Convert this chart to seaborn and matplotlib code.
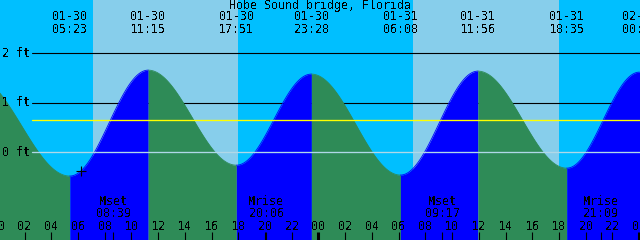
import numpy as np
import pandas as pd
import matplotlib
matplotlib.use("Agg")
import matplotlib.pyplot as plt
import matplotlib.transforms as mtransforms
import seaborn as sns

# ---------------- data (hours from 01-30 00:00) ----------------
title = "Hobe Sound bridge, Florida"
event_dates = ["01-30", "01-30", "01-30", "01-30", "01-31", "01-31", "01-31", "02-01"]
event_times = ["05:23", "11:15", "17:51", "23:28", "06:08", "11:56", "18:35", "00:02"]
event_hours = [5.383, 11.25, 17.85, 23.467, 30.133, 35.933, 42.583, 48.033]
event_heights = [-0.48, 1.66, -0.26, 1.58, -0.46, 1.64, -0.32, 1.62]
prev_high_hour = -1.83     # previous (unlabelled) high, 01-29 22:10
prev_high_height = 1.55

sunrise_hours = [7.12, 31.09]
sunset_hours = [17.98, 42.02]

moon_labels = ["Mset", "Mrise", "Mset", "Mrise"]
moon_times = ["08:39", "20:06", "09:17", "21:09"]
moon_hours = [8.65, 20.1, 33.283, 45.15]

now_hour = 6.2
mean_level = 0.646
level_lines = [2, 1]
level_labels = ["2 ft", "1 ft", "0 ft"]
hour_ticks = list(range(0, 50, 2))

# ---------------- styling ----------------
NIGHT = "#00BFFF"
DAY = "#87CEEB"
FLOOD = "#0000FF"
EBB = "#2E8B57"
ZERO = "#B0D8E8"

sns.set_theme(style="white")
plt.rcParams["font.family"] = ["DejaVu Sans Mono", "DejaVu Sans"]
plt.rcParams["text.antialiased"] = False
plt.rcParams["text.color"] = "black"
FS = 8.4
LW1 = 0.8  # ~1 px

W, H = 640, 240
x0_px, px_per_h = -2.1, 13.358
y0_px, px_per_ft = 152.3, 49.5

fig = plt.figure(figsize=(W / 100, H / 100), dpi=100)
ax = fig.add_axes([0, 0, 1, 1])
ax.set_xlim((0 - x0_px) / px_per_h, (W - x0_px) / px_per_h)
ax.set_ylim((y0_px - H) / px_per_ft, y0_px / px_per_ft)
ax.axis("off")

def yfrac(p):
    return 1 - p / H

trans = mtransforms.blended_transform_factory(ax.transData, ax.transAxes)
trans_ay = mtransforms.blended_transform_factory(ax.transAxes, ax.transData)

# sky: night / day
xmin, xmax = ax.get_xlim()
ax.axvspan(xmin, xmax, color=NIGHT, zorder=0, lw=0)
for sr, ss in zip(sunrise_hours, sunset_hours):
    ax.axvspan(sr, ss, color=DAY, zorder=0.5, lw=0)

# level lines (behind water)
for lv in level_lines:
    ax.axhline(lv, xmin=32 / W, xmax=1, color="black", lw=LW1, zorder=1)

# tide curve between extremes (cosine shape between successive high/low)
ext_h = [prev_high_hour] + event_hours
ext_v = [prev_high_height] + event_heights
rows = []
ymin_data = ax.get_ylim()[0]
for i in range(len(ext_h) - 1):
    t = np.linspace(ext_h[i], ext_h[i + 1], 120)
    f = (t - ext_h[i]) / (ext_h[i + 1] - ext_h[i])
    v = ext_v[i] + (ext_v[i + 1] - ext_v[i]) * (1 - np.cos(np.pi * f)) / 2
    phase = "flood" if ext_v[i + 1] > ext_v[i] else "ebb"
    col = FLOOD if phase == "flood" else EBB
    ax.fill_between(t, v, ymin_data, color=col, lw=0, zorder=2)
    rows.append(pd.DataFrame({"t": t, "v": v, "phase": phase, "seg": i}))
df = pd.concat(rows, ignore_index=True)
sns.lineplot(data=df, x="t", y="v", hue="phase", units="seg", estimator=None,
             palette={"flood": FLOOD, "ebb": EBB}, lw=0.6, legend=False, ax=ax,
             zorder=2.1)

# mean level and zero line on top
ax.axhline(mean_level, xmin=32 / W, xmax=1, color="#FFFF00", lw=LW1 * 1.2, zorder=3)
ax.axhline(0, xmin=32 / W, xmax=1, color=ZERO, lw=LW1 * 1.2, zorder=3)

txt = dict(fontsize=FS, color="black", zorder=5)

# y labels
for lv, lab in zip([2, 1, 0], level_labels):
    ax.text(1.5 / W, lv, lab, transform=trans_ay, ha="left", va="center", **txt)

# title
ax.text(0.5, yfrac(6), title, transform=ax.transAxes, ha="center",
        va="center", **txt)

# event labels
for d, tm, h in zip(event_dates, event_times, event_hours):
    ax.text(h, yfrac(17), d, transform=trans, ha="center", va="center", **txt)
    ax.text(h, yfrac(29.7), tm, transform=trans, ha="center", va="center", **txt)

# moon labels
for lab, tm, h in zip(moon_labels, moon_times, moon_hours):
    ax.text(h, yfrac(201.7), lab, transform=trans, ha="center", va="center", **txt)
    ax.text(h, yfrac(213.8), tm, transform=trans, ha="center", va="center", **txt)

# hour ticks & labels
for h in hour_ticks:
    ax.text(h, yfrac(226), f"{h % 24:02d}", transform=trans, ha="center",
            va="center", **txt)
    lw = 2.2 if h % 24 == 0 else LW1
    ax.plot([h, h], [0, 8.3 / H], transform=trans, color="black", lw=lw,
            zorder=5, solid_capstyle="butt")
for h in moon_hours:
    ax.plot([h, h], [0, 8.3 / H], transform=trans, color="black", lw=LW1,
            zorder=5, solid_capstyle="butt")

# current time marker
ax.plot([now_hour], [(y0_px - 171) / px_per_ft], marker="+", color="black",
        markersize=7, mew=LW1, zorder=6)

fig.savefig("out.png", dpi=100)
